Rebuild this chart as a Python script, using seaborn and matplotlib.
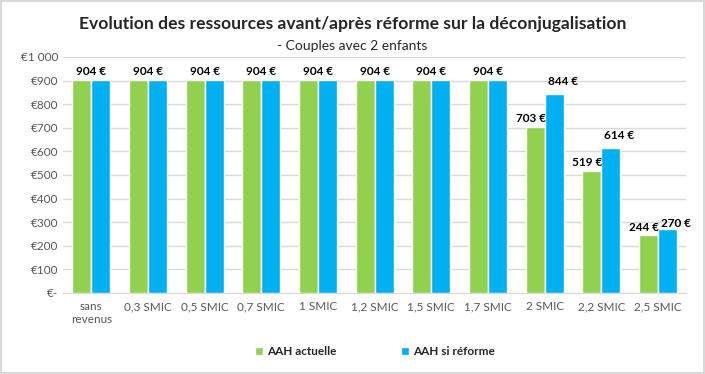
import numpy as np
import pandas as pd
import matplotlib
matplotlib.use("Agg")
import matplotlib.pyplot as plt
import seaborn as sns

# données
categories = ["sans\nrevenus", "0,3 SMIC", "0,5 SMIC", "0,7 SMIC", "1 SMIC", "1,2 SMIC",
              "1,5 SMIC", "1,7 SMIC", "2 SMIC", "2,2 SMIC", "2,5 SMIC"]
aah_actuelle = [904, 904, 904, 904, 904, 904, 904, 904, 703, 519, 244]
aah_reforme = [904, 904, 904, 904, 904, 904, 904, 904, 844, 614, 270]
series_names = ["AAH actuelle", "AAH si réforme"]
y_ticks = [0, 100, 200, 300, 400, 500, 600, 700, 800, 900, 1000]

sns.set_style("white")
plt.rcParams['font.family'] = ['Lato', 'DejaVu Sans']

df = pd.DataFrame({
    "categorie": categories * 2,
    "valeur": aah_actuelle + aah_reforme,
    "serie": [series_names[0]] * len(categories) + [series_names[1]] * len(categories),
})

fig = plt.figure(figsize=(7.05, 3.74), dpi=100, edgecolor="#d9d9d9", linewidth=1.5)
ax = fig.add_axes([0.0894, 0.2166, 0.884, 0.631])

sns.barplot(data=df, x="categorie", y="valeur", hue="serie",
            palette=["#92D050", "#00B0F0"], width=0.67, gap=0, saturation=1,
            ax=ax, zorder=3)

ax.set_ylim(0, 1000)
ax.set_xlim(-0.5, len(categories) - 0.5)
ax.set_yticks(y_ticks)
ax.set_yticklabels(["€-" if v == 0 else "€" + f"{v:,}".replace(",", " ") for v in y_ticks])
ax.yaxis.grid(True, color="#d9d9d9", linewidth=1, zorder=0)
ax.tick_params(axis="both", length=0, colors="#595959", labelsize=8.5)
ax.tick_params(axis="x", pad=6)
ax.set_xlabel("")
ax.set_ylabel("")
for s in ["top", "right", "left"]:
    ax.spines[s].set_visible(False)
ax.spines["bottom"].set_color("#d9d9d9")

# étiquettes de données
lab = dict(ha="center", va="center", fontsize=8.5, fontweight="bold", color="black",
           textcoords="offset points")
for i in range(len(categories)):
    if aah_actuelle[i] == aah_reforme[i]:
        ax.annotate(f"{aah_actuelle[i]} €", (i, aah_actuelle[i]), xytext=(0, 6), **lab)
    else:
        ax.annotate(f"{aah_actuelle[i]} €", (i - 0.17, aah_actuelle[i]), xytext=(-3, 6), **lab)
        ax.annotate(f"{aah_reforme[i]} €", (i + 0.17, aah_reforme[i]),
                    xytext=(6, 9) if i < len(categories) - 1 else (6, 4), **lab)

leg = ax.legend(loc="upper center", bbox_to_anchor=(0.5, -0.18), ncol=2, frameon=False,
                fontsize=8.5, handlelength=0.7, handleheight=0.7, handletextpad=0.3,
                columnspacing=5.5)
for t in leg.get_texts():
    t.set_fontweight("bold")

fig.text(0.5, 0.935, "Evolution des ressources avant/après réforme sur la déconjugalisation",
         ha="center", va="center", fontsize=12.6, fontweight="bold")
fig.text(0.5, 0.877, "- Couples avec 2 enfants", ha="center", va="center", fontsize=10)

fig.savefig("out.png", dpi=100, edgecolor=fig.get_edgecolor())
